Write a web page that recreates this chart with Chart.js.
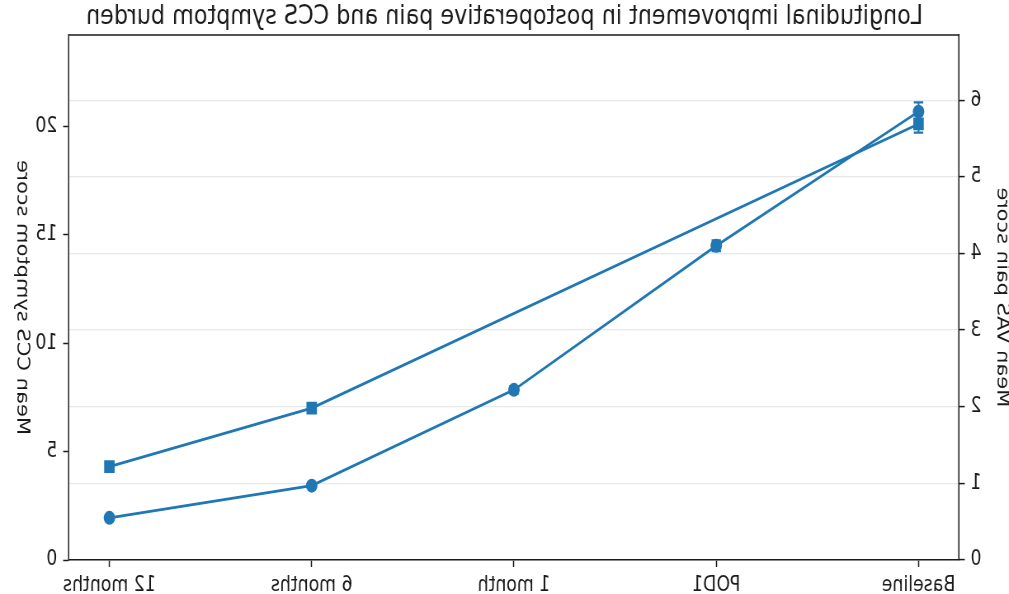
<!DOCTYPE html>
<html><head><meta charset="utf-8">
<script src="https://cdn.jsdelivr.net/npm/chart.js@4.4.1/dist/chart.umd.min.js"></script>
<style>
html,body{margin:0;padding:0;width:1009px;height:594px;overflow:hidden;background:#fff;}
#wrap{position:absolute;left:0;top:0;width:1223px;height:594px;transform-origin:0 0;transform:translateX(1009px) scaleX(-0.825);}
canvas{display:block;}
</style></head><body>
<div id="wrap"><canvas id="c" width="1223" height="594"></canvas></div>
<script>
const categories = ['Baseline', 'POD1', '1 month', '6 months', '12 months'];
const vasMean = [5.85, 4.10, 2.22, 0.97, 0.55];
const vasErr  = [0.12, 0.07, 0.05, 0.03, 0.03];
const ccsMean = [20.1, null, null, 7.0, 4.3];
const ccsErr  = [0.4, null, null, 0.15, 0.12];
const vasTicks = [0, 1, 2, 3, 4, 5, 6];
const ccsTicks = [0, 5, 10, 15, 20];

const BLUE = '#1f77b4';
const INK = '#1a1a1a';
const FONT = 'DejaVu Sans';

const errorBars = {
  id: 'errorBars',
  beforeDatasetsDraw(chart) {
    const ctx = chart.ctx;
    chart.data.datasets.forEach((ds) => {
      if (!ds.errors) return;
      const xs = chart.scales.x, ys = chart.scales[ds.yAxisID];
      ctx.save();
      ctx.strokeStyle = ds.borderColor;
      ctx.lineWidth = 2.2;
      ds.data.forEach((p, i) => {
        const e = ds.errors[i];
        if (p.y == null || e == null) return;
        const x = xs.getPixelForValue(p.x);
        const y1 = ys.getPixelForValue(p.y + e), y2 = ys.getPixelForValue(p.y - e);
        ctx.beginPath();
        ctx.moveTo(x, y1); ctx.lineTo(x, y2);
        ctx.moveTo(x - 5.7, y1); ctx.lineTo(x + 5.7, y1);
        ctx.moveTo(x - 5.7, y2); ctx.lineTo(x + 5.7, y2);
        ctx.stroke();
      });
      ctx.restore();
    });
  }
};

const frame = {
  id: 'frame',
  afterDraw(chart) {
    const {ctx, chartArea: a} = chart;
    ctx.save();
    ctx.strokeStyle = INK; ctx.lineWidth = 1.5;
    ctx.beginPath(); ctx.moveTo(a.left, a.top); ctx.lineTo(a.right, a.top); ctx.stroke();
    const t = chart.options.scales.y2.title;
    ctx.translate(1197, (a.top + a.bottom) / 2);
    ctx.rotate(-Math.PI / 2);
    ctx.fillStyle = INK;
    ctx.font = '21px "' + FONT + '"';
    ctx.textAlign = 'center'; ctx.textBaseline = 'middle';
    ctx.fillText(t.text, 0, 0);
    ctx.restore();
  }
};

const tickFont = {family: FONT, size: 21};

new Chart(document.getElementById('c'), {
  type: 'line',
  data: {
    datasets: [
      {
        label: 'Mean VAS pain score',
        data: vasMean.map((v, i) => ({x: i, y: v})),
        errors: vasErr,
        yAxisID: 'y',
        borderColor: BLUE, backgroundColor: BLUE,
        borderWidth: 2.8, pointStyle: 'circle', pointRadius: 7,
        pointBorderWidth: 0, tension: 0
      },
      {
        label: 'Mean CCS symptom score',
        data: ccsMean.map((v, i) => ({x: i, y: v})),
        errors: ccsErr,
        yAxisID: 'y2',
        borderColor: BLUE, backgroundColor: BLUE,
        borderWidth: 2.8, pointStyle: 'rect', pointRadius: 9,
        pointBorderWidth: 0, tension: 0, spanGaps: true
      }
    ]
  },
  options: {
    responsive: false,
    animation: false,
    layout: {padding: 0},
    plugins: {
      legend: {display: false},
      tooltip: {enabled: false},
      title: {
        display: true, fullSize: true,
        text: 'Longitudinal improvement in postoperative pain and CCS symptom burden',
        font: {family: FONT, size: 27, weight: 'normal'},
        color: INK, padding: {top: 1, bottom: 1.6}
      }
    },
    scales: {
      x: {
        type: 'linear', min: -0.2, max: 4.2,
        afterBuildTicks: s => { s.ticks = categories.map((c, i) => ({value: i})); },
        afterFit: s => { s.height = 34; },
        ticks: {callback: v => categories[v], font: tickFont, color: INK, padding: 6, maxRotation: 0, autoSkip: false},
        grid: {drawOnChartArea: false, drawTicks: true, tickLength: 7, tickColor: INK, tickWidth: 1.5},
        border: {color: INK, width: 1.5}
      },
      y: {
        type: 'linear', position: 'left', min: 0, max: 6.85,
        afterBuildTicks: s => { s.ticks = vasTicks.map(v => ({value: v})); },
        afterFit: s => { s.width = 60.6; },
        ticks: {font: tickFont, color: INK, padding: 7},
        grid: {color: '#e8e8e8', lineWidth: 1.2, tickLength: 7, tickColor: INK, tickWidth: 1.5},
        border: {color: INK, width: 1.5},
        title: {display: true, text: 'Mean VAS pain score', font: {family: FONT, size: 21, lineHeight: 0.85}, color: INK, padding: 0}
      },
      y2: {
        type: 'linear', position: 'right', min: 0, max: 24.2,
        afterBuildTicks: s => { s.ticks = ccsTicks.map(v => ({value: v})); },
        afterFit: s => { s.width = 83.6; },
        ticks: {font: tickFont, color: INK, padding: 7},
        grid: {drawOnChartArea: false, tickLength: 7, tickColor: INK, tickWidth: 1.5},
        border: {color: INK, width: 1.5},
        title: {display: false, text: 'Mean CCS symptom score'}
      }
    }
  },
  plugins: [errorBars, frame]
});
</script>
</body></html>
